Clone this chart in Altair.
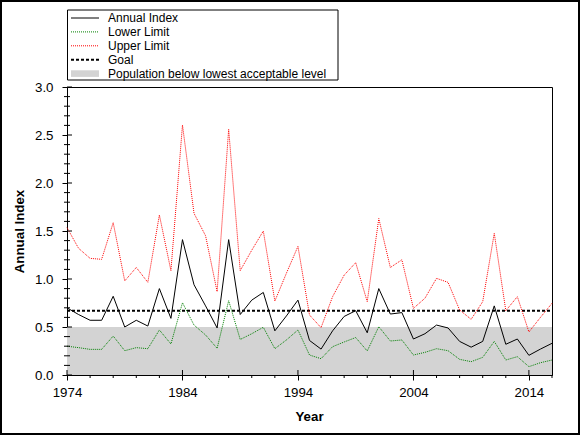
import altair as alt
import pandas as pd

# ---- data -------------------------------------------------------------
years = list(range(1974, 2017))

annual_index = [
    0.70, 0.63, 0.57, 0.57, 0.82, 0.50, 0.57, 0.51, 0.90, 0.59,
    1.41, 0.94, 0.72, 0.49, 1.41, 0.63, 0.78, 0.86, 0.46, 0.615,
    0.78, 0.36, 0.27, 0.46, 0.61, 0.67, 0.44, 0.90, 0.635, 0.65,
    0.375, 0.43, 0.52, 0.49, 0.35, 0.29, 0.35, 0.72, 0.32, 0.375,
    0.205, 0.27, 0.33,
]
lower_limit = [
    0.30, 0.285, 0.267, 0.267, 0.406, 0.253, 0.285, 0.274, 0.469, 0.323,
    0.753, 0.52, 0.417, 0.278, 0.774, 0.37, 0.43, 0.497, 0.274, 0.365,
    0.469, 0.208, 0.17, 0.295, 0.344, 0.39, 0.25, 0.503, 0.354, 0.365,
    0.208, 0.236, 0.274, 0.253, 0.163, 0.139, 0.184, 0.35, 0.156, 0.191,
    0.087, 0.128, 0.156,
]
upper_limit = [
    1.535, 1.32, 1.215, 1.205, 1.587, 0.98, 1.12, 0.965, 1.667, 1.087,
    2.604, 1.684, 1.45, 0.868, 2.56, 1.087, 1.30, 1.50, 0.77, 1.06,
    1.34, 0.625, 0.493, 0.816, 1.04, 1.17, 0.764, 1.63, 1.12, 1.20,
    0.694, 0.80, 1.007, 0.965, 0.677, 0.58, 0.764, 1.476, 0.67, 0.816,
    0.448, 0.60, 0.747,
]
goal = 0.67
lowest_acceptable = 0.5

year_range = [1974, 2016]
x_label_years = [1974, 1984, 1994, 2004, 2014]
x_minor_years = [y for y in range(1976, 2017, 2) if y not in x_label_years]
y_label_values = [0.0, 0.5, 1.0, 1.5, 2.0, 2.5, 3.0]
y_minor_values = [round(i / 10, 1) for i in range(1, 30) if i % 5 != 0]

legend_labels = [
    "Annual Index",
    "Lower Limit",
    "Upper Limit",
    "Goal",
    "Population below lowest acceptable level",
]

# ---- layout -----------------------------------------------------------
W, H = 485, 288
FONT = "Liberation Sans"
GRAY = "#d3d3d3"

series = pd.DataFrame({
    "Year": years,
    "Annual Index": annual_index,
    "Lower Limit": lower_limit,
    "Upper Limit": upper_limit,
})

x_scale = alt.Scale(domain=year_range, nice=False, zero=False)
y_scale = alt.Scale(domain=[0, 3], nice=False)

x_axis = alt.Axis(
    values=x_label_years, format="d", title="Year",
    tickSize=5, tickColor="black", domainColor="black",
    labelPadding=5, labelFontSize=13.3, labelColor="black",
    labelFlush=False, labelOverlap=False,
    titleFontSize=13.3, titleFontWeight="bold", titleColor="black",
    titleBaseline="alphabetic", titleY=45.5, titleX=W / 2 - 0.5,
    grid=False,
)
y_axis = alt.Axis(
    values=y_label_values, format=".1f", title="Annual Index",
    tickSize=5, tickColor="black", domainColor="black",
    labelPadding=9, labelFontSize=13.3, labelColor="black",
    labelFlush=False, labelOverlap=False,
    titleFontSize=13.3, titleFontWeight="bold", titleColor="black",
    titleBaseline="alphabetic", titleX=-44, titleY=H / 2,
    grid=False,
)


def xq(field):
    return alt.X(f"{field}:Q", scale=x_scale, axis=x_axis)


def yq(field):
    return alt.Y(f"{field}:Q", scale=y_scale, axis=y_axis)


# shaded band: population below lowest acceptable level
band = alt.Chart(pd.DataFrame({
    "x": [year_range[0]], "x2": [year_range[1]],
    "y": [0.0], "y2": [lowest_acceptable],
})).mark_rect(color=GRAY).encode(
    x=xq("x"), x2="x2", y=yq("y"), y2="y2",
)

goal_line = alt.Chart(pd.DataFrame({
    "x": [year_range[0]], "x2": [year_range[1]], "y": [goal],
})).mark_rule(color="black", strokeWidth=2, strokeDash=[3, 2]).encode(
    x=xq("x"), x2="x2", y=yq("y"),
)

base = alt.Chart(series)


def series_line(field, color, dash=None):
    kw = dict(color=color, strokeWidth=1)
    if dash:
        kw["strokeDash"] = dash
    return base.mark_line(**kw).encode(x=xq("Year"), y=yq(field))


upper = series_line("Upper Limit", "#ff0000", [1, 1])
lower = series_line("Lower Limit", "#008000", [1, 1])
annual = series_line("Annual Index", "black")

# extra tick marks: inner halves of major ticks and short minor ticks
x_major_in = alt.Chart(pd.DataFrame({"x": x_label_years})).mark_rule(
    color="black", strokeWidth=1).encode(
    x=xq("x"), y=alt.value(H - 5), y2=alt.value(H),
)
x_minor = alt.Chart(pd.DataFrame({"x": x_minor_years})).mark_rule(
    color="black", strokeWidth=1).encode(
    x=xq("x"), y=alt.value(H), y2=alt.value(H + 3),
)
y_major_in = alt.Chart(pd.DataFrame({"y": y_label_values})).mark_rule(
    color="black", strokeWidth=1).encode(
    y=yq("y"), x=alt.value(0), x2=alt.value(5),
)
y_minor = alt.Chart(pd.DataFrame({"y": y_minor_values})).mark_rule(
    color="black", strokeWidth=1).encode(
    y=yq("y"), x=alt.value(-3), x2=alt.value(3),
)

# ---- legend box above the plot ---------------------------------------
one = pd.DataFrame({"k": [0]})
row_y = [-69.0, -55.1, -41.2, -27.3, -13.4]
sx0, sx1, tx = 4, 32, 41

legend_layers = [
    alt.Chart(one).mark_rect(fill="white", stroke="black", strokeWidth=1).encode(
        x=alt.value(0.5), x2=alt.value(271), y=alt.value(-77), y2=alt.value(-7)),
    alt.Chart(one).mark_rule(color="black", strokeWidth=1).encode(
        x=alt.value(sx0), x2=alt.value(sx1), y=alt.value(row_y[0])),
    alt.Chart(one).mark_rule(color="#008000", strokeWidth=1, strokeDash=[1, 1]).encode(
        x=alt.value(sx0), x2=alt.value(sx1), y=alt.value(row_y[1])),
    alt.Chart(one).mark_rule(color="#ff0000", strokeWidth=1, strokeDash=[1, 1]).encode(
        x=alt.value(sx0), x2=alt.value(sx1), y=alt.value(row_y[2])),
    alt.Chart(one).mark_rule(color="black", strokeWidth=2, strokeDash=[3, 2]).encode(
        x=alt.value(sx0), x2=alt.value(sx1), y=alt.value(row_y[3])),
    alt.Chart(one).mark_rect(color=GRAY).encode(
        x=alt.value(sx0), x2=alt.value(sx1),
        y=alt.value(row_y[4] - 3.3), y2=alt.value(row_y[4] + 3.3)),
]
for label, ry in zip(legend_labels, row_y):
    legend_layers.append(
        alt.Chart(one).mark_text(
            align="left", baseline="alphabetic", font=FONT, fontSize=12,
            color="black",
        ).encode(x=alt.value(tx), y=alt.value(ry + 4.3), text=alt.value(label))
    )

# outer frame around the whole figure
frame = alt.Chart(one).mark_rect(fill=None, stroke="black", strokeWidth=2).encode(
    x=alt.value(-66), x2=alt.value(512), y=alt.value(-86), y2=alt.value(347),
)

chart = alt.layer(
    band, goal_line, upper, lower, annual,
    x_major_in, x_minor, y_major_in, y_minor,
    *legend_layers, frame,
).properties(
    width=W, height=H,
    autosize=alt.AutoSizeParams(type="none"),
    padding={"left": 67, "top": 87, "right": 28, "bottom": 60},
    background="white",
).configure_view(
    stroke="black", strokeWidth=1,
).configure_axis(
    labelFont=FONT, titleFont=FONT,
).configure_text(font=FONT)

chart.save("out.html", embed_options={"renderer": "svg", "actions": False})
